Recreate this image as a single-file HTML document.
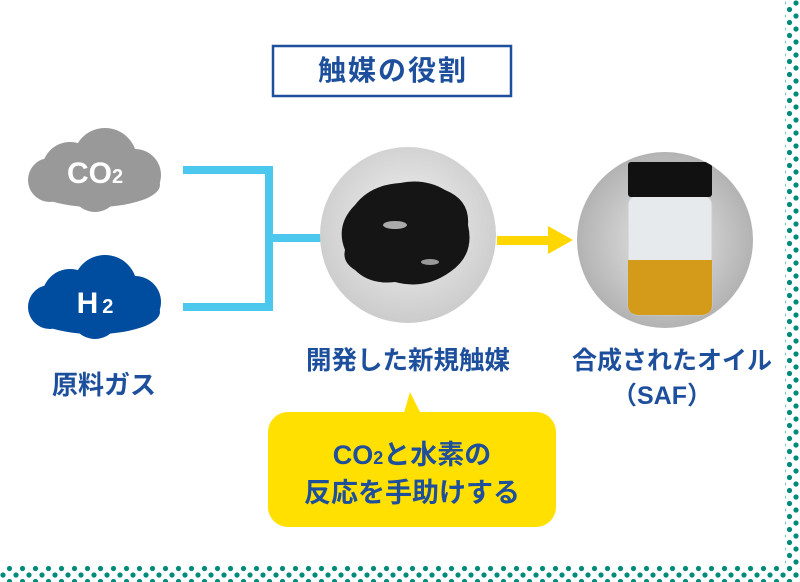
<!DOCTYPE html>
<html><head><meta charset="utf-8"><style>
body{margin:0;width:800px;height:582px;background:#fff;position:relative;overflow:hidden;font-family:"Liberation Sans","Noto Sans CJK JP",sans-serif;font-weight:bold;color:#1d4f9c}
.t{position:absolute;white-space:nowrap;font-size:25px;line-height:30px}
</style></head><body>
<svg width="800" height="582" style="position:absolute;left:0;top:0">
<defs>
<pattern id="dots" width="13" height="13" patternUnits="userSpaceOnUse">
<circle cx="3" cy="3" r="2.6" fill="#008a7a"/><circle cx="9.5" cy="9.5" r="2.6" fill="#008a7a"/>
</pattern>
<radialGradient id="g1" cx="50%" cy="45%" r="60%"><stop offset="0" stop-color="#f2f2f2"/><stop offset="1" stop-color="#c8c8c8"/></radialGradient>
<radialGradient id="g2" cx="50%" cy="50%" r="60%"><stop offset="0" stop-color="#e8e8e8"/><stop offset="1" stop-color="#a8a8a8"/></radialGradient>
<clipPath id="c2"><circle cx="665" cy="240" r="88"/></clipPath>
</defs>
<rect x="785" y="0" width="15" height="582" fill="url(#dots)"/>
<rect x="0" y="566" width="800" height="16" fill="url(#dots)"/>
<rect x="273" y="46" width="238" height="50" fill="none" stroke="#1d4f9c" stroke-width="2.5"/>
<g fill="#999">
<circle cx="70" cy="170" r="28"/><circle cx="105" cy="160" r="32"/><circle cx="135" cy="175" r="26"/><circle cx="50" cy="180" r="22"/><circle cx="95" cy="188" r="24"/><ellipse cx="95" cy="185" rx="65" ry="22"/>
</g>
<g fill="#004c9e">
<circle cx="70" cy="297" r="28"/><circle cx="105" cy="287" r="32"/><circle cx="135" cy="302" r="26"/><circle cx="50" cy="307" r="22"/><circle cx="95" cy="315" r="24"/><ellipse cx="95" cy="312" rx="65" ry="22"/>
</g>
<text x="95" y="183" fill="#fff" font-size="30" text-anchor="middle" font-family="Liberation Sans" font-weight="bold">CO<tspan font-size="20">2</tspan></text>
<text x="95" y="313" fill="#fff" font-size="30" text-anchor="middle" font-family="Liberation Sans" font-weight="bold">H<tspan font-size="20" dx="4">2</tspan></text>
<g fill="#4cc8ee">
<rect x="183" y="166" width="90" height="8"/><rect x="183" y="303" width="90" height="8"/><rect x="265" y="166" width="8" height="145"/><rect x="273" y="234" width="50" height="8"/>
</g>
<circle cx="408" cy="235" r="88" fill="url(#g1)"/>
<path d="M345 250 Q335 225 355 205 Q370 185 400 183 Q425 178 445 190 Q470 200 468 225 Q475 255 450 272 Q425 290 395 282 Q370 285 355 270 Q342 262 345 250Z" fill="#151515"/>
<ellipse cx="395" cy="225" rx="12" ry="4" fill="#aaa"/><ellipse cx="430" cy="262" rx="9" ry="3" fill="#999"/>
<rect x="497" y="236" width="55" height="9" fill="#ffd600"/>
<polygon points="548,226 573,240 548,254" fill="#ffd600"/>
<circle cx="665" cy="240" r="88" fill="url(#g2)"/>
<g clip-path="url(#c2)">
<rect x="628" y="195" width="84" height="120" rx="10" fill="#e6eaec" stroke="#ccc"/>
<path d="M628 260 H712 V305 Q712 315 700 315 H640 Q628 315 628 305Z" fill="#d49a1a"/>
<rect x="628" y="162" width="84" height="35" rx="3" fill="#111"/>
</g>
<path d="M403 416 L410 392 L422 416 Z" fill="#ffe000"/>
<rect x="268" y="412" width="288" height="115" rx="20" fill="#ffe000"/>
</svg>
<div class="t" style="left:52px;top:370px;font-size:26px">原料ガス</div>
<div class="t" style="left:306px;top:346px;font-size:25.5px">開発した新規触媒</div>
<div class="t" style="left:572px;top:346px;font-size:25px">合成されたオイル</div>
<div class="t" style="left:612px;top:381px;font-size:25px">（SAF）</div>
<div class="t" style="left:273px;top:56px;font-size:28px;letter-spacing:2px;width:240px;text-align:center">触媒の役割</div>
<div class="t" style="left:268px;top:440px;width:288px;text-align:center;font-size:27px">CO<span style="font-size:18px">2</span>と水素の</div>
<div class="t" style="left:268px;top:478px;width:288px;text-align:center;font-size:27px">反応を手助けする</div>
</body></html>
